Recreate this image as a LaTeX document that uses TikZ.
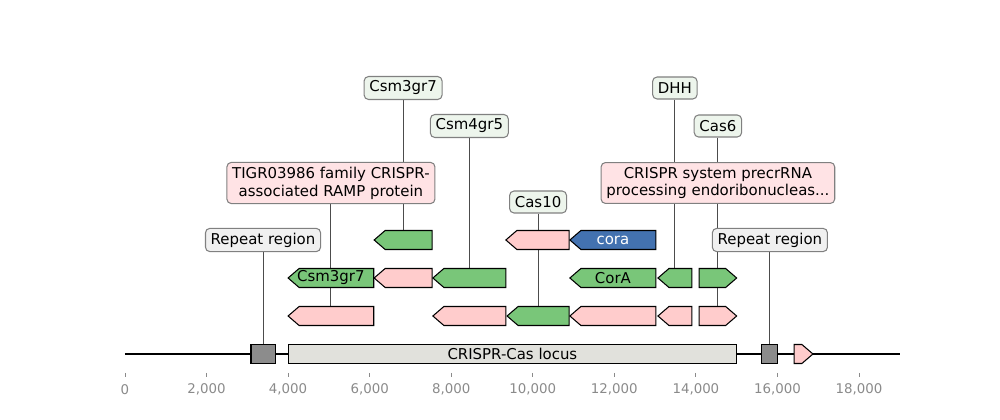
\documentclass[tikz,border=0pt]{standalone}
\usepackage{fontspec}
\setmainfont{DejaVu Sans}
\usepackage{tikz}
\usetikzlibrary{backgrounds}
\definecolor{genegreen}{HTML}{79C679}
\definecolor{genepink}{HTML}{FFCCCC}
\definecolor{geneblue}{HTML}{4372B0}
\definecolor{repgray}{HTML}{8C8C8C}
\definecolor{locusgray}{HTML}{E1E1DC}
\definecolor{lblgreen}{HTML}{EDF5EC}
\definecolor{lblpink}{HTML}{FFE3E5}
\definecolor{lblgray}{HTML}{F0F0F0}
\definecolor{lblborder}{HTML}{808080}
\definecolor{tickgray}{HTML}{8A8A8A}

\begin{document}
\begin{tikzpicture}[x=0.81556cm, y=0.76cm, font=\fontsize{8.5}{10.2}\selectfont,
    gene/.style = {draw=black, line width=0.6pt, line join=miter},
    lbl/.style = {draw=lblborder, line width=0.6pt, rounded corners=2.5pt, inner xsep=3pt, inner ysep=2.5pt, minimum height=0.44cm, align=center},
    lead/.style = {draw=black!70, line width=0.5pt}]
    \useasboundingbox (-3.0654,-1.7368) rectangle (21.4577,9.3158);

    \draw[line width=1.1pt] (0,0) -- (19,0);
    \foreach \k/\t in {0/0, 2/{2,000}, 4/{4,000}, 6/{6,000}, 8/{8,000}, 10/{10,000}, 12/{12,000}, 14/{14,000}, 16/{16,000}, 18/{18,000}} {
        \draw[tickgray, line width=0.5pt] (\k,-0.5) -- (\k,-0.61);
        \node[text=tickgray, font=\fontsize{7.6}{9}\selectfont] (t\k) at (\k,-0.93) {\t};
    }

    \draw[gene, fill=repgray] (3.09,-0.25) rectangle (3.68,0.25);
    \draw[gene, fill=repgray] (15.62,-0.25) rectangle (16.01,0.25);
    \draw[gene, fill=locusgray] (4.00,-0.25) rectangle (15.00,0.25);
    \coordinate (rep1) at (3.385,0.25);
    \coordinate (rep2) at (15.815,0.25);
    \node (locus) at (9.5,0) {CRISPR-Cas locus};

    \foreach \s/\t/\r/\c/\n in {
        6.10/4.00/1/genepink/a1, 9.34/7.55/1/genepink/a2, 10.89/9.37/1/genegreen/a3,
        13.02/10.91/1/genepink/a4, 13.90/13.07/1/genepink/a5, 14.08/15.00/1/genepink/a6,
        6.10/4.00/2/genegreen/b1, 7.53/6.11/2/genepink/b2, 9.34/7.55/2/genegreen/b3,
        13.02/10.91/2/genegreen/b4, 13.90/13.07/2/genegreen/b5, 14.08/15.00/2/genegreen/b6,
        7.53/6.11/3/genegreen/c1, 10.89/9.34/3/genepink/c2, 13.02/10.91/3/geneblue/c3,
        16.41/16.87/0/genepink/d1} {
        \pgfmathsetmacro\h{\t-0.27*sign(\t-\s)}
        \draw[gene, fill=\c] (\s,\r-0.25) -- (\h,\r-0.25) -- (\t,\r) -- (\h,\r+0.25) -- (\s,\r+0.25) -- cycle;
        \coordinate (\n) at ({(\s+\t)/2},\r+0.25);
    }

    \node (csmin) at (5.05,2) {Csm3gr7};
    \node (corain) at (11.965,2) {CorA};
    \node[text=white] (corablue) at (11.965,3) {cora};

    \node[lbl, fill=lblgray] (rptL) at (rep1 |- 0,3) {Repeat region};
    \node[lbl, fill=lblpink] (tigr) at (a1 |- 0,4.5) {TIGR03986 family CRISPR-\\associated RAMP protein};
    \node[lbl, fill=lblgreen] (csm3) at (c1 |- 0,7) {Csm3gr7};
    \node[lbl, fill=lblgreen] (csm4) at (b3 |- 0,6) {Csm4gr5};
    \node[lbl, fill=lblgreen] (cas10) at (a3 |- 0,4) {Cas10};
    \node[lbl, fill=lblgreen] (dhh) at (b5 |- 0,7) {DHH};
    \node[lbl, fill=lblgreen] (cas6) at (b6 |- 0,6) {Cas6};
    \node[lbl, fill=lblpink] (precr) at (a6 |- 0,4.5) {CRISPR system precrRNA\\processing endoribonucleas...};
    \node[lbl, fill=lblgray] (rptR) at (rep2 |- 0,3) {Repeat region};

    \begin{pgfonlayer}{background}
        \draw[lead] (rptL) -- (rep1);
        \draw[lead] (tigr) -- (a1);
        \draw[lead] (csm3) -- (c1);
        \draw[lead] (csm4) -- (b3);
        \draw[lead] (cas10) -- (a3);
        \draw[lead] (dhh) -- (b5);
        \draw[lead] (cas6) -- (b6);
        \draw[lead] (precr) -- (a6);
        \draw[lead] (rptR) -- (rep2);
    \end{pgfonlayer}
\end{tikzpicture}
\end{document}
